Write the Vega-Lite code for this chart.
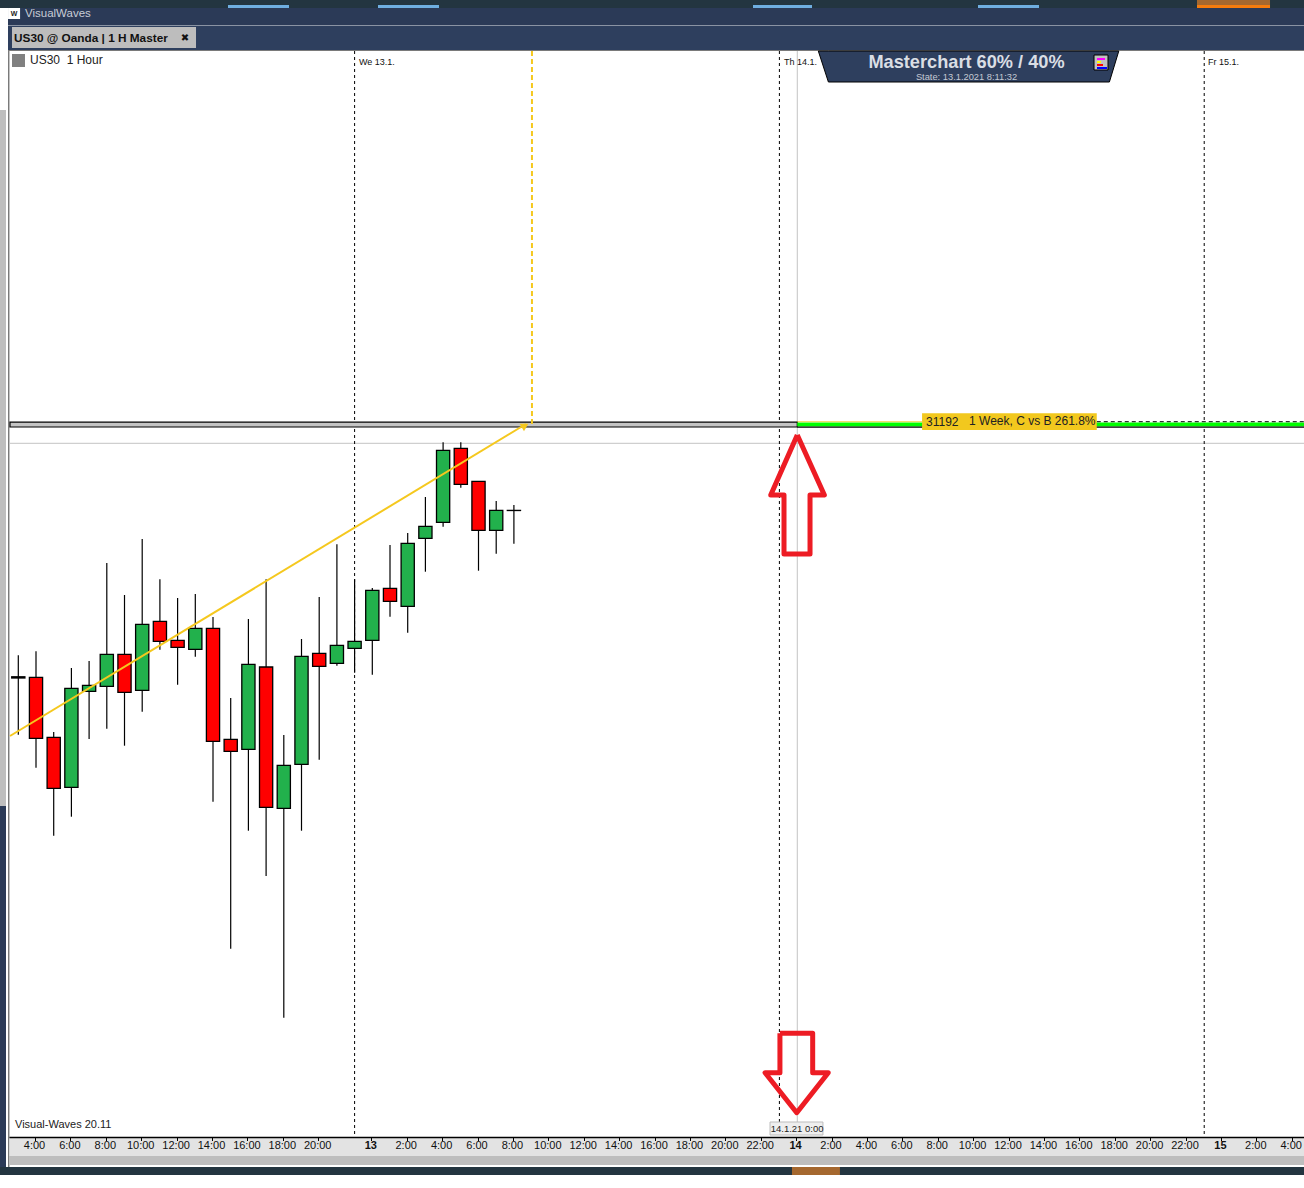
{
"$schema":"https://vega.github.io/schema/vega-lite/v6.json",
"width":1304,"height":1188,"padding":0,"autosize":{"type":"none"},"background":"white",
"config":{"view":{"stroke":null},"text":{"font":"Liberation Sans"},"axis":{"labelFont":"Liberation Sans"}},
"datasets":{
"candles":[
{"bar":-20,"open":31065.6,"close":31065,"high":31076.35,"low":31036.65,"dir":"doji"},
{"bar":-19,"open":31065.35,"close":31034.85,"high":31078.35,"low":31020.15,"dir":"down"},
{"bar":-18,"open":31035.35,"close":31009.85,"high":31038,"low":30986.15,"dir":"down"},
{"bar":-17,"open":31010.35,"close":31059.85,"high":31070,"low":30995.65,"dir":"up"},
{"bar":-16,"open":31058.35,"close":31061.35,"high":31073.5,"low":31034.5,"dir":"up"},
{"bar":-15,"open":31060.85,"close":31076.85,"high":31122.5,"low":31039.65,"dir":"up"},
{"bar":-14,"open":31076.85,"close":31057.85,"high":31106.5,"low":31031.15,"dir":"down"},
{"bar":-13,"open":31058.85,"close":31091.85,"high":31134.5,"low":31048.15,"dir":"up"},
{"bar":-12,"open":31093.35,"close":31083.35,"high":31114.35,"low":31079.15,"dir":"down"},
{"bar":-11,"open":31083.85,"close":31080.35,"high":31105,"low":31061.65,"dir":"down"},
{"bar":-10,"open":31079.35,"close":31089.85,"high":31107,"low":31075.65,"dir":"up"},
{"bar":-9,"open":31089.85,"close":31033.35,"high":31095.5,"low":31003.15,"dir":"down"},
{"bar":-8,"open":31034.35,"close":31028.35,"high":31055,"low":30929.65,"dir":"down"},
{"bar":-7,"open":31029.35,"close":31071.85,"high":31094.5,"low":30988.65,"dir":"up"},
{"bar":-6,"open":31070.5,"close":31000.35,"high":31114.35,"low":30966,"dir":"down"},
{"bar":-5,"open":30999.85,"close":31021.35,"high":31036.5,"low":30895.15,"dir":"up"},
{"bar":-4,"open":31021.85,"close":31075.85,"high":31084.5,"low":30988.65,"dir":"up"},
{"bar":-3,"open":31077.35,"close":31070.85,"high":31105.5,"low":31024.15,"dir":"down"},
{"bar":-2,"open":31072.35,"close":31081.35,"high":31131.85,"low":31071.15,"dir":"up"},
{"bar":-1,"open":31079.85,"close":31083.35,"high":31114.35,"low":31067.65,"dir":"up"},
{"bar":0,"open":31083.85,"close":31108.85,"high":31110,"low":31066.65,"dir":"up"},
{"bar":1,"open":31109.85,"close":31103.35,"high":31131.5,"low":31095.65,"dir":"down"},
{"bar":2,"open":31100.85,"close":31132.35,"high":31137.5,"low":31087.65,"dir":"up"},
{"bar":3,"open":31134.85,"close":31140.85,"high":31155.5,"low":31118.15,"dir":"up"},
{"bar":4,"open":31142.85,"close":31178.85,"high":31182.85,"low":31140.65,"dir":"up"},
{"bar":5,"open":31179.85,"close":31161.85,"high":31182.85,"low":31160.15,"dir":"down"},
{"bar":6,"open":31163.35,"close":31138.85,"high":31163.35,"low":31118.65,"dir":"down"},
{"bar":7,"open":31138.85,"close":31148.85,"high":31153.5,"low":31127.15,"dir":"up"},
{"bar":8,"open":31148.8,"close":31148.75,"high":31151.5,"low":31132.15,"dir":"doji"}
]},
"encoding":{
"x":{"field":"bar","type":"quantitative","title":null,"scale":{"domain":[-21.034,52.638],"nice":false,"zero":false,"padding":0},
"axis":{"zindex":1,"offset":-50.5,"values":[-19,-17,-15,-13,-11,-9,-7,-5,-3,0,2,4,6,8,10,12,14,16,18,20,22,24,26,28,30,32,34,36,38,40,42,44,46,48,50,52],
"labelExpr":"datum.value < 0 ? (23 + datum.value) + ':00' : (datum.value % 24 === 0 ? '' + (13 + datum.value / 24) : (datum.value % 24) + ':00')",
"labelFontWeight":{"condition":{"test":"datum.value % 24 === 0 && datum.value >= 0","value":"bold"},"value":"normal"},
"grid":false,"domain":false,"tickColor":"#000000","tickSize":3,"tickWidth":1,"tickOffset":-1,"labelOffset":-1,"labelFontSize":11,"labelColor":"#111111","labelPadding":-1,"labelOverlap":false,"labelFlush":false,"labelBound":false}},
"y":{"field":"price","type":"quantitative","title":null,"axis":null,"scale":{"domain":[30810,31404],"nice":false,"zero":false}}
},
"resolve":{"scale":{"color":"independent"}},
"layer":[
{"data":{"values":[
{"part":"dark","bar":-21.034,"bar2":52.638,"price":31404,"price2":31400},
{"part":"title","bar":-20.582,"bar2":52.638,"price":31400,"price2":31391.5},
{"part":"sep","bar":-20.582,"bar2":52.638,"price":31391.5,"price2":31391},
{"part":"tabbar","bar":-20.582,"bar2":52.638,"price":31391,"price2":31379},
{"part":"sep2","bar":-20.582,"bar2":52.638,"price":31379,"price2":31378.5},
{"part":"side","bar":-21.034,"bar2":-20.695,"price":31349,"price2":31001},
{"part":"title","bar":-21.034,"bar2":-20.695,"price":31001,"price2":30820.5},
{"part":"sep2","bar":-20.582,"bar2":-20.5,"price":31378.5,"price2":30820.5},
{"part":"strip","bar":-20.5,"bar2":52.638,"price":30835,"price2":30826},
{"part":"side","bar":-20.5,"bar2":52.638,"price":30826,"price2":30821.5},
{"part":"dark","bar":-21.034,"bar2":52.638,"price":30820.5,"price2":30816.5},
{"part":"brown","bar":23.71,"bar2":26.42,"price":30820.5,"price2":30816.5},
{"part":"sky","bar":-8.153,"bar2":-4.706,"price":31401.5,"price2":31400},
{"part":"sky","bar":0.322,"bar2":3.768,"price":31401.5,"price2":31400},
{"part":"sky","bar":21.508,"bar2":24.842,"price":31401.5,"price2":31400},
{"part":"sky","bar":34.22,"bar2":37.667,"price":31401.5,"price2":31400},
{"part":"brown","bar":46.593,"bar2":50.718,"price":31404,"price2":31401.5},
{"part":"orange","bar":46.593,"bar2":50.718,"price":31401.5,"price2":31400},
{"part":"tab","bar":-20.356,"bar2":-9.96,"price":31390.5,"price2":31380},
{"part":"swatch","bar":-20.356,"bar2":-19.622,"price":31377,"price2":31370.5},
{"part":"paper","bar":-20.58,"bar2":-19.9,"price":31400,"price2":31394.5}
]},
"mark":{"type":"rect"},
"encoding":{"x2":{"field":"bar2"},"y2":{"field":"price2"},
"color":{"field":"part","type":"nominal","legend":null,"scale":{"domain":["dark","title","sep","tabbar","sep2","side","strip","brown","sky","orange","tab","swatch","paper"],"range":["#233540","#2B3A57","#8A93A3","#2E3F5E","#7A7A7A","#BEBEBE","#E3E3E3","#A5682F","#6FAEE0","#F57C0E","#BDBDBD","#808080","#FFFFFF"]}}}},
{"data":{"values":[{"bar":-20.5,"bar2":52.638,"price":30835.25}]},"mark":{"type":"rule","color":"#000000","strokeWidth":1.5},"encoding":{"x2":{"field":"bar2"}}},
{"data":{"values":[{"bar":-20.47,"bar2":52.638,"price":31182.35}]},"mark":{"type":"rule","color":"#C4C4C4","strokeWidth":1},"encoding":{"x2":{"field":"bar2"}}},
{"data":{"values":[{"bar":24.01,"price":31378.5,"price2":30843}]},"mark":{"type":"rule","color":"#C4C4C4","strokeWidth":1},"encoding":{"y2":{"field":"price2"}}},
{"data":{"values":[{"bar":-1,"price":31378.5,"price2":30836.5},{"bar":23,"price":31378.5,"price2":30836.5},{"bar":47,"price":31378.5,"price2":30836.5}]},"mark":{"type":"rule","color":"#000000","strokeWidth":1,"strokeDash":[3,3]},"encoding":{"y2":{"field":"price2"}}},
{"data":{"values":[{"bar":-20.47,"bar2":24.01,"price":31192.9,"price2":31190.5}]},"mark":{"type":"rect","fill":"#C4C4C4","stroke":"#000000","strokeWidth":1.2},"encoding":{"x2":{"field":"bar2"},"y2":{"field":"price2"}}},
{"data":{"values":[{"bar":24.01,"bar2":52.638,"price":31192.75,"price2":31190.75}]},"mark":{"type":"rect","fill":"#00FF00"},"encoding":{"x2":{"field":"bar2"},"y2":{"field":"price2"}}},
{"data":{"values":[{"bar":24.01,"bar2":52.638,"price":31190.4}]},"mark":{"type":"rule","color":"#000000","strokeWidth":1.2},"encoding":{"x2":{"field":"bar2"}}},
{"data":{"values":[{"bar":24.01,"bar2":31.06,"price":31193.15}]},"mark":{"type":"rule","color":"#F2C81E","strokeWidth":0.8},"encoding":{"x2":{"field":"bar2"}}},
{"data":{"values":[{"bar":40.93,"bar2":52.638,"price":31193.15}]},"mark":{"type":"rule","color":"#000000","strokeWidth":1,"strokeDash":[4,3]},"encoding":{"x2":{"field":"bar2"}}},
{"data":{"name":"candles"},"mark":{"type":"rule","color":"#000000","strokeWidth":1.2},"encoding":{"y":{"field":"low","type":"quantitative","title":null,"axis":null,"scale":{"domain":[30810,31404],"nice":false,"zero":false}},"y2":{"field":"high"}}},
{"data":{"name":"candles"},"mark":{"type":"bar","width":13.2,"stroke":"#000000","strokeWidth":1.3},"encoding":{"y":{"field":"open","type":"quantitative","title":null,"axis":null,"scale":{"domain":[30810,31404],"nice":false,"zero":false}},"y2":{"field":"close"},
"color":{"field":"dir","type":"nominal","legend":null,"scale":{"domain":["up","down","doji"],"range":["#22B14C","#FF0000","#000000"]}}}},
{"data":{"values":[{"bar":-20.47,"price":31036},{"bar":8.68,"price":31192}]},"mark":{"type":"line","color":"#F5C81E","strokeWidth":2}},
{"data":{"values":[{"bar":9.02,"price":31378.5,"price2":31192}]},"mark":{"type":"rule","color":"#F5C81E","strokeWidth":2,"strokeDash":[5,3]},"encoding":{"y2":{"field":"price2"}}},
{"data":{"values":[{"bar":8.57,"price":31190.3}]},"mark":{"type":"point","shape":"triangle-down","filled":true,"size":75,"color":"#F5C81E","opacity":1}},
{"data":{"values":[{"bar":31.06,"bar2":40.93,"price":31197.35,"price2":31189}]},"mark":{"type":"rect","fill":"#F2C81E"},"encoding":{"x2":{"field":"bar2"},"y2":{"field":"price2"}}},
{"data":{"values":[{"bar":31.283,"price":31193.25,"label":"31192"},{"bar":33.712,"price":31193.75,"label":"1 Week, C vs B 261.8%"}]},"mark":{"type":"text","align":"left","baseline":"middle","fontSize":12,"color":"#222222"},"encoding":{"text":{"field":"label"}}},
{"data":{"values":[{"bar":25.198,"price":31378.5,"price2":31378.5},{"bar":25.768,"price":31378.5,"price2":31363},{"bar":41.644,"price":31378.5,"price2":31363},{"bar":42.175,"price":31378.5,"price2":31378.5}]},"mark":{"type":"area","color":"#2E3F5E","stroke":"#000000","strokeWidth":1,"opacity":1},"encoding":{"y":{"field":"price","type":"quantitative","stack":null,"title":null,"axis":null,"scale":{"domain":[30810,31404],"nice":false,"zero":false}},"y2":{"field":"price2"}}},
{"data":{"values":[{"bar":40.774,"bar2":41.565,"price":31376.5,"price2":31369}]},"mark":{"type":"rect","fill":"#C0C0C0","stroke":"#000000","strokeWidth":1},"encoding":{"x2":{"field":"bar2"},"y2":{"field":"price2"}}},
{"data":{"values":[
{"part":"magenta","bar":40.944,"bar2":41.396,"price":31375,"price2":31374},
{"part":"yellow","bar":40.944,"bar2":41.17,"price":31373.5,"price2":31372.5},
{"part":"red","bar":40.944,"bar2":41.283,"price":31372,"price2":31371},
{"part":"blue","bar":40.944,"bar2":41.508,"price":31370.5,"price2":31369.5}]},
"mark":{"type":"rect"},"encoding":{"x2":{"field":"bar2"},"y2":{"field":"price2"},"color":{"field":"part","type":"nominal","legend":null,"scale":{"domain":["magenta","yellow","red","blue"],"range":["#FF00FF","#FFFF00","#FF0000","#0000FF"]}}}},
{"data":{"values":[{"bar":33.57,"price":31372.7,"label":"Masterchart 60% / 40%"}]},"mark":{"type":"text","align":"center","baseline":"middle","fontSize":18.2,"fontWeight":"bold","color":"#DADEE4"},"encoding":{"text":{"field":"label"}}},
{"data":{"values":[{"bar":33.57,"price":31365.5,"label":"State: 13.1.2021 8:11:32"}]},"mark":{"type":"text","align":"center","baseline":"middle","fontSize":9.3,"color":"#C4CAD4"},"encoding":{"text":{"field":"label"}}},
{"data":{"values":[{"bar":-19.622,"price":31397,"label":"VisualWaves"}]},"mark":{"type":"text","align":"left","baseline":"middle","fontSize":11.5,"color":"#C8CDD6"},"encoding":{"text":{"field":"label"}}},
{"data":{"values":[{"bar":-20.24,"price":31397.2,"label":"W"}]},"mark":{"type":"text","align":"center","baseline":"middle","fontSize":7,"fontWeight":"bold","color":"#222222"},"encoding":{"text":{"field":"label"}}},
{"data":{"values":[{"bar":-20.243,"price":31385,"label":"US30 @ Oanda | 1 H Master"}]},"mark":{"type":"text","align":"left","baseline":"middle","fontSize":11.8,"fontWeight":"bold","color":"#111111"},"encoding":{"text":{"field":"label"}}},
{"data":{"values":[{"bar":-10.582,"price":31385,"label":"✖"}]},"mark":{"type":"text","align":"center","baseline":"middle","fontSize":10,"font":"DejaVu Sans","color":"#111111"},"encoding":{"text":{"field":"label"}}},
{"data":{"values":[{"bar":-19.339,"price":31373.8,"label":"US30\u00a0\u00a01 Hour"}]},"mark":{"type":"text","align":"left","baseline":"middle","fontSize":12,"color":"#222222"},"encoding":{"text":{"field":"label"}}},
{"data":{"values":[{"bar":-0.751,"price":31373,"label":"We 13.1."},{"bar":23.26,"price":31373,"label":"Th 14.1."},{"bar":47.215,"price":31373,"label":"Fr 15.1."}]},"mark":{"type":"text","align":"left","baseline":"middle","fontSize":9,"color":"#111111"},"encoding":{"text":{"field":"label"}}},
{"data":{"values":[{"bar":-20.186,"price":30841.5,"label":"Visual-Waves 20.11"}]},"mark":{"type":"text","align":"left","baseline":"middle","fontSize":11,"color":"#222222"},"encoding":{"text":{"field":"label"}}},
{"data":{"values":[{"bar":22.47,"bar2":25.46,"price":30843,"price2":30836.5}]},"mark":{"type":"rect","fill":"#EEEEEE","stroke":"#BDBDBD","strokeWidth":1},"encoding":{"x2":{"field":"bar2"},"y2":{"field":"price2"}}},
{"data":{"values":[{"bar":24,"price":30839.6,"label":"14.1.21 0:00"}]},"mark":{"type":"text","align":"center","baseline":"middle","fontSize":9.5,"color":"#222222"},"encoding":{"text":{"field":"label"}}},
{"data":{"values":[
{"arrow":"up","seq":1,"bar":24.01,"price":31186.5},{"arrow":"up","seq":2,"bar":25.54,"price":31156.5},{"arrow":"up","seq":3,"bar":24.73,"price":31156.5},{"arrow":"up","seq":4,"bar":24.73,"price":31127},{"arrow":"up","seq":5,"bar":23.26,"price":31127},{"arrow":"up","seq":6,"bar":23.26,"price":31156.5},{"arrow":"up","seq":7,"bar":22.51,"price":31156.5},{"arrow":"up","seq":8,"bar":24.01,"price":31186.5},
{"arrow":"down","seq":1,"bar":23.03,"price":30887.35},{"arrow":"down","seq":2,"bar":24.88,"price":30887.35},{"arrow":"down","seq":3,"bar":24.88,"price":30867.65},{"arrow":"down","seq":4,"bar":25.76,"price":30867.65},{"arrow":"down","seq":5,"bar":23.98,"price":30847.65},{"arrow":"down","seq":6,"bar":22.19,"price":30867.65},{"arrow":"down","seq":7,"bar":23.03,"price":30867.65},{"arrow":"down","seq":8,"bar":23.03,"price":30887.35}
]},"mark":{"type":"line","color":"#ED1C24","strokeWidth":5,"strokeJoin":"round"},"encoding":{"detail":{"field":"arrow"},"order":{"field":"seq"}}}
]
}
